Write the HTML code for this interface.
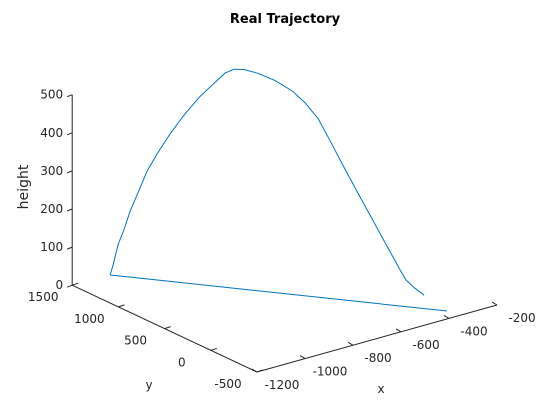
<!DOCTYPE html>
<html><head><meta charset="utf-8"><style>
html,body{margin:0;padding:0;background:#fff;}
svg{display:block;font-family:"DejaVu Sans","Liberation Sans",sans-serif;}
</style></head><body>
<svg id="chart" width="550" height="418" viewBox="0 0 550 418">
<rect width="550" height="418" fill="#fff"/>
<text x="285" y="23" text-anchor="middle" font-size="13" font-weight="bold" fill="#000">Real Trajectory</text>
<g id="axes"></g>
<g id="series"></g>
</svg>
<script>
const xTicks = [-1200, -1000, -800, -600, -400, -200];
const yTicks = [-500, 0, 500, 1000, 1500];
const zTicks = [0, 100, 200, 300, 400, 500];
const trajX = [-1044,-1038,-1028,-1016,-1004,-987,-969,-949,-923,-893,-862,-832,-812,-794,-774,-746,-711,-675,-651,-624,-600,-570,-539,-509,-479,-459,-447,-429,-410];
const trajY = [1495,1478,1450,1417,1384,1339,1289,1233,1160,1077,993,909,854,803,748,670,575,474,407,335,267,185,100,17,-67,-123,-156,-206,-257];
const trajZ = [0,27,82,123,172,225,283,331,387,444,494,535,562,575,577,571,557,533,507,469,414,344,274,207,140,95,70,51,35];
const groundX = [-1044, -364];
const groundY = [1495, -385];
const groundZ = [0, 0];

const NS = 'http://www.w3.org/2000/svg';
function proj(x, y, z) {
  const a = x + 1200, b = y + 500;
  return [257 + a * 0.24 - b * 0.0924, 372 - a * 0.067 - b * 0.0434 - z * 0.381];
}
function mk(tag, attrs, parent) {
  const e = document.createElementNS(NS, tag);
  for (const k in attrs) e.setAttribute(k, attrs[k]);
  parent.appendChild(e);
  return e;
}
const axes = document.getElementById('axes');
const series = document.getElementById('series');
const ax = '#262626';

function line(p, q, name) {
  const e = mk('line', {x1: p[0], y1: p[1], x2: q[0], y2: q[1], stroke: ax, 'stroke-width': 1}, axes);
  
  
}
function label(p, txt, anchor, name) {
  const t = mk('text', {x: p[0], y: p[1], 'text-anchor': anchor, 'font-size': 12, fill: ax}, axes);
  t.textContent = txt;
  
  
}
line(proj(-1200, 1500, 0), proj(-1200, 1500, 500), 'z-axis-line');
line(proj(-1200, 1500, 0), proj(-1200, -500, 0), 'y-axis-line');
line(proj(-1200, -500, 0), proj(-200, -500, 0), 'x-axis-line');
zTicks.forEach(v => {
  const p = proj(-1200, 1500, v);
  line(p, [p[0] - 5, p[1] + 2], 'z-tick');
  label([p[0] - 9, p[1] + 4], String(v), 'end', 'z-tick-label');
});
yTicks.forEach(v => {
  const p = proj(-1200, v, 0);
  line(p, [p[0] + 6, p[1] - 2], 'y-tick');
  label([p[0] - 29, p[1] + 16], String(v), 'middle', 'y-tick-label');
});
xTicks.forEach(v => {
  const p = proj(v, -500, 0);
  line(p, [p[0] - 5, p[1] - 3], 'x-tick');
  label([p[0] + 25, p[1] + 17], String(v), 'middle', 'x-tick-label');
});
label([149, 389], 'y', 'middle', 'y-axis-title');
label([381, 393], 'x', 'middle', 'x-axis-title');
const h = mk('text', {x: 0, y: 0, 'text-anchor': 'middle', 'font-size': 14, fill: ax, transform: 'translate(28,187) rotate(-90)'}, axes);
h.textContent = 'height';



function path(xs, ys, zs, name) {
  const d = xs.map((x, i) => { const p = proj(x, ys[i], zs[i]); return (i ? 'L' : 'M') + p[0].toFixed(1) + ',' + p[1].toFixed(1); }).join('');
  const e = mk('path', {d: d, fill: 'none', stroke: '#0072bd', 'stroke-width': 1}, series);
  
  
}
path(trajX, trajY, trajZ, 'trajectory-line');
path(groundX, groundY, groundZ, 'ground-line');
</script>
</body></html>
